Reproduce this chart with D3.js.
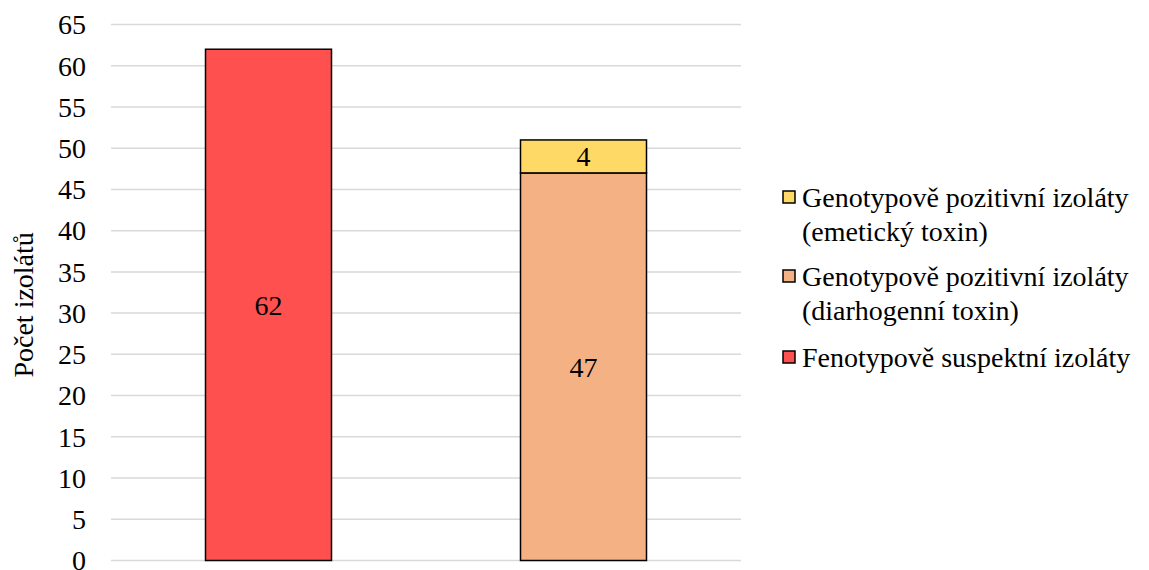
<!DOCTYPE html>
<html>
<head>
<meta charset="utf-8">
<script src="https://cdn.jsdelivr.net/npm/d3@7"></script>
</head>
<body style="margin:0">
<svg id="chart" width="1149" height="570" style="font-family: 'Times New Roman', 'Liberation Serif', Tinos, serif"></svg>
<script>
// data
let categories = ['A', 'B']
let suspektni = [62, 0]
let diarhogenni = [0, 47]
let emeticky = [0, 4]
let yTicks = [0, 5, 10, 15, 20, 25, 30, 35, 40, 45, 50, 55, 60, 65]

let colors = ['#FF5050', '#F4B183', '#FFD966']
let legendLines = [
  ['Genotypově pozitivní izoláty', '(emetický toxin)'],
  ['Genotypově pozitivní izoláty', '(diarhogenní toxin)'],
  ['Fenotypově suspektní izoláty']
]
let legendIdx = [2, 1, 0]

let serifFont = "'Times New Roman', 'Liberation Serif', Tinos, serif"
let fs = 28

let svg = d3.select('#chart')

let x = d3.scaleBand()
  .domain(categories)
  .range([111, 741])
  .paddingInner(0.6)
  .paddingOuter(0.3)
let y = d3.scaleLinear()
  .domain([0, 65])
  .range([560.5, 24.5])

// gridlines
svg.append('g')
  .selectAll('line')
  .data(yTicks)
  .enter()
  .append('line')
  .attr('x1', 111)
  .attr('x2', 741)
  .attr('y1', (d) => y(d))
  .attr('y2', (d) => y(d))
  .attr('stroke', '#d9d9d9')
  .attr('stroke-width', 1.5)

// y tick labels
svg.append('g')
  .selectAll('text')
  .data(yTicks)
  .enter()
  .append('text')
  .attr('x', 86)
  .attr('y', (d) => y(d))
  .attr('dy', '0.35em')
  .attr('text-anchor', 'end')
  .style('font-family', serifFont)
  .attr('font-size', fs)
  .text((d) => d)

svg.append('text')
  .attr('transform', 'translate(23,' + y(31) + ') rotate(-90)')
  .attr('text-anchor', 'middle')
  .attr('dy', '0.35em')
  .style('font-family', serifFont)
  .attr('font-size', fs)
  .text('Počet izolátů')

// stacked bars
let rows = categories.map((c, i) => ({
  cat: c, s0: suspektni[i], s1: diarhogenni[i], s2: emeticky[i]
}))
let stack = d3.stack().keys(['s0', 's1', 's2'])(rows)

stack.forEach((layer, li) => {
  let g = svg.append('g')
  let segs = layer.filter((d) => d[1] - d[0] > 0)
  g.selectAll('rect')
    .data(segs)
    .enter()
    .append('rect')
    .attr('x', (d) => x(d.data.cat))
    .attr('width', x.bandwidth())
    .attr('y', (d) => y(d[1]))
    .attr('height', (d) => y(d[0]) - y(d[1]))
    .attr('fill', colors[li])
    .attr('stroke', '#000')
    .attr('stroke-width', 1.5)
  g.selectAll('text')
    .data(segs)
    .enter()
    .append('text')
    .attr('x', (d) => x(d.data.cat) + x.bandwidth() / 2)
    .attr('y', (d) => y((d[0] + d[1]) / 2))
    .attr('dy', '0.35em')
    .attr('text-anchor', 'middle')
    .style('font-family', serifFont)
    .attr('font-size', fs)
    .text((d) => d[1] - d[0])
})

// legend
let legendY = [197, 276, 357]
let legend = svg.append('g')
legendIdx.forEach((si, k) => {
  legend.append('rect')
    .attr('x', 783)
    .attr('y', legendY[k] - 6)
    .attr('width', 12)
    .attr('height', 12)
    .attr('fill', colors[si])
    .attr('stroke', '#000')
    .attr('stroke-width', 1.5)
  legendLines[k].forEach((line, j) => {
    legend.append('text')
      .attr('x', 802)
      .attr('y', legendY[k] + j * 34)
      .attr('dy', '0.35em')
      .style('font-family', serifFont)
      .attr('font-size', fs)
      .text(line)
  })
})
</script>
</body>
</html>
